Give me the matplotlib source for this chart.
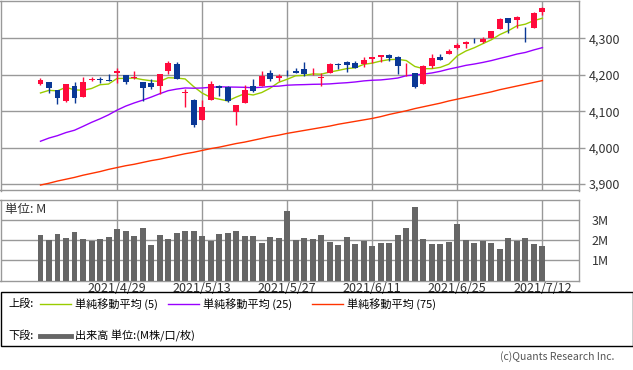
import matplotlib as mpl
mpl.use("Agg")
import matplotlib.pyplot as plt
from matplotlib.lines import Line2D
from matplotlib.patches import Rectangle

plt.rcParams["font.family"] = ["Noto Sans CJK JP", "DejaVu Sans"]

# daily candles, 2021/4/16 .. 2021/7/12
dates = [
	"4/16", "4/19", "4/20", "4/21", "4/22", "4/23", "4/26", "4/27", "4/28", "4/29",
	"4/30", "5/3", "5/4", "5/5", "5/6", "5/7", "5/10", "5/11", "5/12", "5/13",
	"5/14", "5/17", "5/18", "5/19", "5/20", "5/21", "5/24", "5/25", "5/26", "5/27",
	"5/28", "6/1", "6/2", "6/3", "6/4", "6/7", "6/8", "6/9", "6/10", "6/11",
	"6/14", "6/15", "6/16", "6/17", "6/18", "6/21", "6/22", "6/23", "6/24", "6/25",
	"6/28", "6/29", "6/30", "7/1", "7/2", "7/6", "7/7", "7/8", "7/9", "7/12",
]
opens = [
	4174.14, 4179.80, 4159.18, 4128.10, 4170.46, 4138.78, 4185.03, 4188.25, 4185.14, 4206.14,
	4198.10, 4191.98, 4179.04, 4177.06, 4169.14, 4210.34, 4228.29, 4150.34, 4130.55, 4074.99,
	4129.58, 4169.92, 4165.94, 4098.45, 4121.97, 4168.61, 4170.16, 4205.94, 4191.59, 4201.94,
	4210.77, 4216.52, 4206.82, 4191.43, 4206.05, 4229.34, 4233.81, 4232.99, 4228.56, 4242.90,
	4248.31, 4255.28, 4248.87, 4220.37, 4204.78, 4173.40, 4224.61, 4249.27, 4256.97, 4274.45,
	4284.90, 4293.21, 4290.65, 4300.73, 4326.60, 4356.46, 4351.01, 4321.07, 4329.38, 4372.41,
]
highs = [
	4191.31, 4180.81, 4159.18, 4175.02, 4179.57, 4194.17, 4194.19, 4193.35, 4201.53, 4218.78,
	4198.10, 4209.39, 4179.04, 4187.72, 4202.70, 4238.04, 4236.39, 4162.04, 4134.73, 4131.58,
	4183.13, 4171.92, 4169.15, 4116.93, 4172.80, 4188.72, 4209.52, 4213.42, 4202.61, 4213.38,
	4218.36, 4234.12, 4217.37, 4204.39, 4233.45, 4232.34, 4236.74, 4237.09, 4249.74, 4248.38,
	4255.59, 4257.16, 4251.89, 4232.29, 4204.78, 4226.24, 4255.84, 4256.60, 4271.28, 4286.12,
	4292.14, 4300.52, 4302.43, 4320.66, 4355.43, 4356.46, 4361.88, 4330.88, 4371.60, 4386.68,
]
lows = [
	4170.75, 4150.47, 4118.38, 4126.01, 4123.69, 4138.78, 4182.36, 4176.22, 4181.78, 4176.81,
	4174.85, 4188.03, 4128.59, 4160.94, 4147.33, 4201.64, 4188.13, 4111.53, 4056.88, 4074.99,
	4129.58, 4142.69, 4125.99, 4061.41, 4121.97, 4151.72, 4170.16, 4182.52, 4184.11, 4197.78,
	4203.57, 4197.59, 4198.27, 4167.93, 4206.05, 4215.66, 4208.41, 4218.74, 4220.34, 4232.25,
	4234.07, 4238.35, 4202.45, 4196.05, 4164.40, 4173.40, 4217.27, 4241.43, 4256.97, 4271.16,
	4274.67, 4287.04, 4287.96, 4300.73, 4326.60, 4314.37, 4329.79, 4289.37, 4329.38, 4364.03,
]
closes = [
	4185.47, 4163.26, 4134.94, 4173.42, 4134.98, 4180.17, 4187.62, 4186.72, 4183.18, 4211.47,
	4181.17, 4192.66, 4164.66, 4167.59, 4201.62, 4232.60, 4188.43, 4152.10, 4063.04, 4112.50,
	4173.85, 4163.29, 4127.83, 4115.68, 4159.12, 4155.86, 4197.05, 4188.13, 4195.99, 4200.88,
	4204.11, 4202.04, 4208.12, 4192.85, 4229.89, 4226.52, 4227.26, 4219.55, 4239.18, 4247.44,
	4255.15, 4246.59, 4223.70, 4221.86, 4166.45, 4224.79, 4246.44, 4241.84, 4266.49, 4280.70,
	4290.61, 4291.80, 4297.50, 4319.94, 4352.34, 4343.54, 4358.13, 4320.82, 4369.55, 4384.63,
]

# moving averages as drawn
ma5 = [
	4150.0, 4157.1, 4155.8, 4165.5, 4158.4, 4157.4, 4162.2, 4172.6, 4174.5, 4189.8,
	4190.0, 4191.0, 4186.6, 4183.5, 4181.5, 4191.8, 4191.0, 4188.5, 4167.6, 4149.7,
	4138.0, 4133.0, 4128.1, 4138.6, 4148.0, 4144.4, 4151.1, 4163.2, 4179.2, 4187.6,
	4197.2, 4198.2, 4202.2, 4201.6, 4207.4, 4211.9, 4216.9, 4219.2, 4228.5, 4232.0,
	4237.7, 4241.6, 4242.4, 4239.0, 4222.8, 4216.7, 4216.7, 4220.3, 4229.2, 4252.1,
	4265.2, 4274.3, 4285.4, 4296.1, 4310.4, 4321.0, 4334.3, 4339.0, 4348.9, 4355.3,
]
ma25 = [
	4017.3, 4026.1, 4032.7, 4041.2, 4047.6, 4058.2, 4069.2, 4079.0, 4089.9, 4102.8,
	4113.7, 4122.4, 4130.1, 4138.5, 4147.7, 4156.2, 4160.6, 4163.7, 4163.0, 4163.7,
	4165.5, 4166.9, 4166.3, 4166.0, 4165.5, 4164.3, 4165.7, 4167.8, 4168.7, 4171.3,
	4172.3, 4172.9, 4173.7, 4174.1, 4174.9, 4176.7, 4178.1, 4180.2, 4183.1, 4184.9,
	4185.8, 4188.2, 4191.0, 4197.4, 4199.5, 4201.6, 4204.9, 4209.5, 4215.5, 4220.4,
	4225.8, 4229.5, 4233.9, 4238.9, 4244.9, 4250.5, 4256.8, 4261.3, 4268.3, 4274.5,
]
ma75 = [
	3897, 3902, 3908, 3913, 3918, 3924, 3929, 3934, 3940, 3945,
	3950, 3954, 3959, 3964, 3968, 3973, 3978, 3983, 3987, 3992,
	3997, 4001, 4006, 4011, 4015, 4020, 4025, 4030, 4034, 4039,
	4043, 4047, 4051, 4055, 4059, 4064, 4068, 4072, 4076, 4080,
	4085, 4091, 4096, 4101, 4107, 4112, 4117, 4122, 4128, 4133,
	4138, 4143, 4148, 4153, 4159, 4164, 4169, 4174, 4179, 4184,
]

# volume in M
volume = [
	2.25, 2.00, 2.30, 2.10, 2.40, 2.05, 1.96, 2.05, 2.15, 2.55,
	2.45, 2.20, 2.60, 1.76, 2.25, 2.05, 2.35, 2.45, 2.45, 2.20,
	1.96, 2.30, 2.35, 2.45, 2.20, 2.20, 1.86, 2.15, 2.10, 3.44,
	2.00, 2.10, 2.05, 2.25, 1.91, 1.76, 2.15, 1.81, 1.96, 1.71,
	1.86, 1.86, 2.25, 2.60, 3.64, 2.05, 1.81, 1.81, 1.91, 2.80,
	2.00, 1.86, 1.96, 1.86, 1.56, 2.10, 1.96, 2.10, 1.81, 1.71,
]

tick_dates = ["4/29", "5/13", "5/27", "6/11", "6/25", "7/12"]
price_ticks = [3900, 4000, 4100, 4200, 4300]
vol_ticks = [1, 2, 3]

GRID = "#999999"
UP = "#ff0a3c"
DOWN = "#0a3896"
TXT = "#333333"

W, H = 633.0, 370.0

def box(x0, y0, x1, y1):
	# pixel box (top-left origin) -> figure fraction
	return [x0 / W, 1 - y1 / H, (x1 - x0) / W, (y1 - y0) / H]

def style(ax):
	for s in ax.spines.values():
		s.set_color(GRID)
		s.set_linewidth(1)
	ax.set_axisbelow(True)
	ax.grid(True, color=GRID, linewidth=1)
	ax.set_xlim(-4.7, 63.3)

fig = plt.figure(figsize=(6.33, 3.70), dpi=100)

xs = list(range(len(dates)))
tick_pos = [dates.index(d) for d in tick_dates]

# upper panel: candles + moving averages
ax = fig.add_axes(box(0.5, 0.5, 579, 190.5))
style(ax)
for i in xs:
	o, h, l, c = opens[i], highs[i], lows[i], closes[i]
	col = UP if c >= o else DOWN
	ax.vlines(i, l, h, color=col, linewidth=1, zorder=3)
	ax.bar(i, max(abs(c - o), 0.6), bottom=min(o, c), width=0.7, color=col, linewidth=0, zorder=4)

ax.plot(xs, ma5, color="#99cc00", linewidth=1, zorder=2)
ax.plot(xs, ma25, color="#9900ff", linewidth=1, zorder=2)
ax.plot(xs, ma75, color="#ff3300", linewidth=1, zorder=2)

ax.set_ylim(3882, 4404)
ax.set_xticks(tick_pos)
ax.set_yticks(price_ticks)
ax.set_yticklabels(["{:,}".format(v) for v in price_ticks])
ax.yaxis.tick_right()
ax.tick_params(axis="y", direction="out", length=4, width=1, color=GRID, labelsize=9, labelcolor=TXT, pad=3)
ax.tick_params(axis="x", length=0, labelbottom=False)

# lower panel: volume
vx = fig.add_axes(box(0.5, 199.5, 579, 280.5))
style(vx)
vx.bar(xs, volume, width=0.7, color="#666666", linewidth=0, zorder=3)
vx.set_ylim(0, 4)
vx.set_yticks(vol_ticks)
vx.set_yticklabels(["%dM" % v for v in vol_ticks])
vx.yaxis.tick_right()
vx.tick_params(axis="y", length=0, labelsize=9, labelcolor=TXT, pad=9)
vx.set_xticks(tick_pos)
vx.set_xticklabels(["2021/" + d for d in tick_dates])
vx.tick_params(axis="x", length=0, labelsize=9, labelcolor=TXT, pad=1)
fig.text(5 / W, 1 - 209 / H, "単位: M", fontsize=9, color=TXT, va="center")

# legend box
fig.patches.append(Rectangle((0.5 / W, 1 - 346 / H), 632 / W, 54 / H,
	transform=fig.transFigure, fill=False, edgecolor="black", linewidth=1))

def legend_item(x_line, y, color, lw, label):
	yf = 1 - y / H
	fig.lines.append(Line2D([x_line / W, (x_line + 31) / W], [yf, yf], color=color,
		linewidth=lw, transform=fig.transFigure))
	fig.text((x_line + 35) / W, yf, label, fontsize=8, color="black", va="center")

fig.text(8 / W, 1 - 304 / H, "上段:", fontsize=8, color="black", va="center")
legend_item(40, 304, "#99cc00", 1, "単純移動平均 (5)")
legend_item(168, 304, "#9900ff", 1, "単純移動平均 (25)")
legend_item(312, 304, "#ff3300", 1, "単純移動平均 (75)")
fig.text(8 / W, 1 - 336 / H, "下段:", fontsize=8, color="black", va="center")
legend_item(40, 336, "#666666", 3.5, "出来高 単位:(M株/口/枚)")

fig.text(614 / W, 1 - 357 / H, "(c)Quants Research Inc.", fontsize=7.5, color="#555555",
	ha="right", va="center")

fig.savefig("out.png", dpi=100)
